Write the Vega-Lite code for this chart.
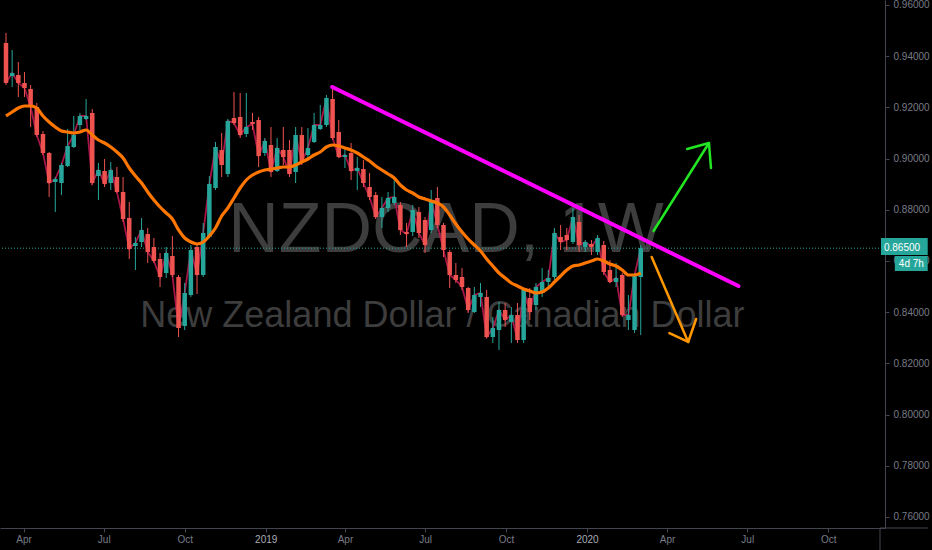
{
  "$schema": "https://vega.github.io/schema/vega-lite/v6.json",
  "width": 885,
  "height": 528,
  "autosize": "none",
  "padding": {"left": 0, "top": 0, "right": 47, "bottom": 22},
  "background": "#000000",
  "config": {"view": {"stroke": null}, "axis": {"grid": false}},
  "datasets": {
    "candles": [
      {"d":"2018-03-12","o":0.94515,"h":0.94906,"l":0.92875,"c":0.92953,"ma":0.91664},
      {"d":"2018-03-19","o":0.93226,"h":0.94242,"l":0.92797,"c":0.93343,"ma":0.91820},
      {"d":"2018-03-26","o":0.93265,"h":0.93773,"l":0.92406,"c":0.92953,"ma":0.91976},
      {"d":"2018-04-02","o":0.92953,"h":0.93383,"l":0.92406,"c":0.92758,"ma":0.92054},
      {"d":"2018-04-09","o":0.92718,"h":0.92875,"l":0.91234,"c":0.92015,"ma":0.92054},
      {"d":"2018-04-16","o":0.92015,"h":0.92172,"l":0.90843,"c":0.90922,"ma":0.91976},
      {"d":"2018-04-23","o":0.90961,"h":0.91078,"l":0.90140,"c":0.90218,"ma":0.91664},
      {"d":"2018-04-30","o":0.90218,"h":0.90257,"l":0.88499,"c":0.89046,"ma":0.91429},
      {"d":"2018-05-07","o":0.89085,"h":0.89281,"l":0.87913,"c":0.89203,"ma":0.91234},
      {"d":"2018-05-14","o":0.89046,"h":0.89828,"l":0.88578,"c":0.89750,"ma":0.91078},
      {"d":"2018-05-21","o":0.89711,"h":0.91156,"l":0.89671,"c":0.90492,"ma":0.91039},
      {"d":"2018-05-28","o":0.90453,"h":0.91664,"l":0.90414,"c":0.90922,"ma":0.91000},
      {"d":"2018-06-04","o":0.91312,"h":0.91781,"l":0.91117,"c":0.91664,"ma":0.91039},
      {"d":"2018-06-11","o":0.91547,"h":0.92328,"l":0.91508,"c":0.91664,"ma":0.91117},
      {"d":"2018-06-18","o":0.91781,"h":0.91937,"l":0.88968,"c":0.89046,"ma":0.90922},
      {"d":"2018-06-25","o":0.89320,"h":0.89828,"l":0.88382,"c":0.89554,"ma":0.90726},
      {"d":"2018-07-02","o":0.89515,"h":0.89984,"l":0.88890,"c":0.89007,"ma":0.90609},
      {"d":"2018-07-09","o":0.89046,"h":0.89867,"l":0.88773,"c":0.89554,"ma":0.90453},
      {"d":"2018-07-16","o":0.89281,"h":0.89671,"l":0.88656,"c":0.88695,"ma":0.90257},
      {"d":"2018-07-23","o":0.88695,"h":0.89281,"l":0.87523,"c":0.87640,"ma":0.90023},
      {"d":"2018-07-30","o":0.87679,"h":0.88304,"l":0.86078,"c":0.86468,"ma":0.89632},
      {"d":"2018-08-06","o":0.86585,"h":0.86937,"l":0.85648,"c":0.86703,"ma":0.89320},
      {"d":"2018-08-13","o":0.86742,"h":0.87679,"l":0.86546,"c":0.87210,"ma":0.89046},
      {"d":"2018-08-20","o":0.87054,"h":0.87288,"l":0.85922,"c":0.86351,"ma":0.88695},
      {"d":"2018-08-27","o":0.86546,"h":0.86898,"l":0.85922,"c":0.86000,"ma":0.88382},
      {"d":"2018-09-03","o":0.86078,"h":0.86312,"l":0.84984,"c":0.85375,"ma":0.88109},
      {"d":"2018-09-10","o":0.85531,"h":0.86546,"l":0.85336,"c":0.86312,"ma":0.87875},
      {"d":"2018-09-17","o":0.86195,"h":0.86976,"l":0.85375,"c":0.85453,"ma":0.87640},
      {"d":"2018-09-24","o":0.85375,"h":0.85453,"l":0.83031,"c":0.83382,"ma":0.87211},
      {"d":"2018-10-01","o":0.83461,"h":0.85140,"l":0.83304,"c":0.84750,"ma":0.86898},
      {"d":"2018-10-08","o":0.84672,"h":0.86625,"l":0.84593,"c":0.86429,"ma":0.86742},
      {"d":"2018-10-15","o":0.86546,"h":0.86703,"l":0.84711,"c":0.85453,"ma":0.86664},
      {"d":"2018-10-22","o":0.85453,"h":0.87484,"l":0.85375,"c":0.87093,"ma":0.86742},
      {"d":"2018-10-29","o":0.86937,"h":0.89320,"l":0.86898,"c":0.89007,"ma":0.86976},
      {"d":"2018-11-05","o":0.88851,"h":0.90648,"l":0.88773,"c":0.90453,"ma":0.87289},
      {"d":"2018-11-12","o":0.90336,"h":0.91000,"l":0.89281,"c":0.89750,"ma":0.87757},
      {"d":"2018-11-19","o":0.89398,"h":0.91547,"l":0.89281,"c":0.91468,"ma":0.88070},
      {"d":"2018-11-26","o":0.91586,"h":0.92601,"l":0.91312,"c":0.91390,"ma":0.88461},
      {"d":"2018-12-03","o":0.91625,"h":0.92562,"l":0.90804,"c":0.90922,"ma":0.88851},
      {"d":"2018-12-10","o":0.90961,"h":0.92562,"l":0.90843,"c":0.91234,"ma":0.89164},
      {"d":"2018-12-17","o":0.91429,"h":0.91781,"l":0.91117,"c":0.91351,"ma":0.89359},
      {"d":"2018-12-24","o":0.91508,"h":0.91625,"l":0.89671,"c":0.90101,"ma":0.89476},
      {"d":"2018-12-31","o":0.90218,"h":0.90804,"l":0.90101,"c":0.90687,"ma":0.89554},
      {"d":"2019-01-07","o":0.90531,"h":0.91234,"l":0.89281,"c":0.89476,"ma":0.89593},
      {"d":"2019-01-14","o":0.89515,"h":0.90804,"l":0.89476,"c":0.90414,"ma":0.89632},
      {"d":"2019-01-21","o":0.90336,"h":0.91234,"l":0.89750,"c":0.90062,"ma":0.89672},
      {"d":"2019-01-28","o":0.90336,"h":0.90726,"l":0.89281,"c":0.89398,"ma":0.89672},
      {"d":"2019-02-04","o":0.89476,"h":0.91234,"l":0.89046,"c":0.90922,"ma":0.89750},
      {"d":"2019-02-11","o":0.90922,"h":0.91234,"l":0.89750,"c":0.89867,"ma":0.89867},
      {"d":"2019-02-18","o":0.90140,"h":0.91195,"l":0.89945,"c":0.90414,"ma":0.89984},
      {"d":"2019-02-25","o":0.90648,"h":0.91781,"l":0.90609,"c":0.91312,"ma":0.90140},
      {"d":"2019-03-04","o":0.91156,"h":0.92093,"l":0.91117,"c":0.91312,"ma":0.90257},
      {"d":"2019-03-11","o":0.91312,"h":0.92484,"l":0.91234,"c":0.92367,"ma":0.90453},
      {"d":"2019-03-18","o":0.92328,"h":0.92875,"l":0.90726,"c":0.90804,"ma":0.90531},
      {"d":"2019-03-25","o":0.91039,"h":0.91508,"l":0.90023,"c":0.90062,"ma":0.90492},
      {"d":"2019-04-01","o":0.90062,"h":0.90414,"l":0.89632,"c":0.90140,"ma":0.90414},
      {"d":"2019-04-08","o":0.90218,"h":0.90609,"l":0.89164,"c":0.89515,"ma":0.90336},
      {"d":"2019-04-15","o":0.89515,"h":0.90062,"l":0.88773,"c":0.89632,"ma":0.90218},
      {"d":"2019-04-22","o":0.89593,"h":0.89945,"l":0.88890,"c":0.89046,"ma":0.90062},
      {"d":"2019-04-29","o":0.88890,"h":0.89437,"l":0.88382,"c":0.88499,"ma":0.89906},
      {"d":"2019-05-06","o":0.88578,"h":0.88695,"l":0.87640,"c":0.87718,"ma":0.89711},
      {"d":"2019-05-13","o":0.87718,"h":0.88499,"l":0.87288,"c":0.88070,"ma":0.89554},
      {"d":"2019-05-20","o":0.88070,"h":0.88695,"l":0.87913,"c":0.88460,"ma":0.89398},
      {"d":"2019-05-27","o":0.88265,"h":0.89242,"l":0.88187,"c":0.88499,"ma":0.89242},
      {"d":"2019-06-03","o":0.88187,"h":0.88304,"l":0.87015,"c":0.87210,"ma":0.88968},
      {"d":"2019-06-10","o":0.87132,"h":0.87484,"l":0.86546,"c":0.87054,"ma":0.88773},
      {"d":"2019-06-17","o":0.87132,"h":0.88187,"l":0.86976,"c":0.87992,"ma":0.88656},
      {"d":"2019-06-24","o":0.87913,"h":0.88109,"l":0.86898,"c":0.87093,"ma":0.88500},
      {"d":"2019-07-01","o":0.87601,"h":0.87718,"l":0.86312,"c":0.86625,"ma":0.88422},
      {"d":"2019-07-08","o":0.87210,"h":0.88773,"l":0.87093,"c":0.88382,"ma":0.88343},
      {"d":"2019-07-15","o":0.88460,"h":0.88890,"l":0.87288,"c":0.87406,"ma":0.88265},
      {"d":"2019-07-22","o":0.87406,"h":0.87484,"l":0.86156,"c":0.86429,"ma":0.88109},
      {"d":"2019-07-29","o":0.86351,"h":0.86429,"l":0.84945,"c":0.85453,"ma":0.87797},
      {"d":"2019-08-05","o":0.85453,"h":0.85922,"l":0.85140,"c":0.85257,"ma":0.87445},
      {"d":"2019-08-12","o":0.85375,"h":0.85726,"l":0.84867,"c":0.84984,"ma":0.87132},
      {"d":"2019-08-19","o":0.84945,"h":0.84984,"l":0.83968,"c":0.84086,"ma":0.86859},
      {"d":"2019-08-26","o":0.84007,"h":0.84984,"l":0.83968,"c":0.84672,"ma":0.86625},
      {"d":"2019-09-02","o":0.84593,"h":0.85140,"l":0.84203,"c":0.84750,"ma":0.86390},
      {"d":"2019-09-09","o":0.84593,"h":0.84867,"l":0.82992,"c":0.83031,"ma":0.86078},
      {"d":"2019-09-16","o":0.83031,"h":0.83812,"l":0.82797,"c":0.83382,"ma":0.85804},
      {"d":"2019-09-23","o":0.83304,"h":0.84398,"l":0.82523,"c":0.84086,"ma":0.85531},
      {"d":"2019-09-30","o":0.84086,"h":0.84359,"l":0.83422,"c":0.83695,"ma":0.85336},
      {"d":"2019-10-07","o":0.83617,"h":0.84203,"l":0.82797,"c":0.83890,"ma":0.85140},
      {"d":"2019-10-14","o":0.83890,"h":0.84359,"l":0.82797,"c":0.82914,"ma":0.85023},
      {"d":"2019-10-21","o":0.82914,"h":0.84945,"l":0.82797,"c":0.84867,"ma":0.84906},
      {"d":"2019-10-28","o":0.84554,"h":0.84945,"l":0.83695,"c":0.84007,"ma":0.84828},
      {"d":"2019-11-04","o":0.84281,"h":0.85140,"l":0.84086,"c":0.84984,"ma":0.84750},
      {"d":"2019-11-11","o":0.84750,"h":0.85726,"l":0.84593,"c":0.85179,"ma":0.84789},
      {"d":"2019-11-18","o":0.85179,"h":0.85648,"l":0.84984,"c":0.85336,"ma":0.84945},
      {"d":"2019-11-25","o":0.85375,"h":0.87288,"l":0.85257,"c":0.87093,"ma":0.85179},
      {"d":"2019-12-02","o":0.86937,"h":0.87406,"l":0.86429,"c":0.86742,"ma":0.85414},
      {"d":"2019-12-09","o":0.87015,"h":0.87288,"l":0.86429,"c":0.86820,"ma":0.85648},
      {"d":"2019-12-16","o":0.86742,"h":0.88070,"l":0.86664,"c":0.87718,"ma":0.85804},
      {"d":"2019-12-23","o":0.87523,"h":0.87796,"l":0.86351,"c":0.86625,"ma":0.85843},
      {"d":"2019-12-30","o":0.86546,"h":0.86820,"l":0.86351,"c":0.86742,"ma":0.85922},
      {"d":"2020-01-06","o":0.86664,"h":0.86820,"l":0.86234,"c":0.86546,"ma":0.86000},
      {"d":"2020-01-13","o":0.86351,"h":0.87015,"l":0.86234,"c":0.86898,"ma":0.86078},
      {"d":"2020-01-20","o":0.86625,"h":0.86781,"l":0.85453,"c":0.85570,"ma":0.86000},
      {"d":"2020-01-27","o":0.85648,"h":0.86039,"l":0.85140,"c":0.85179,"ma":0.85882},
      {"d":"2020-02-03","o":0.85179,"h":0.85922,"l":0.84984,"c":0.85336,"ma":0.85804},
      {"d":"2020-02-10","o":0.85453,"h":0.85531,"l":0.83812,"c":0.83890,"ma":0.85648},
      {"d":"2020-02-17","o":0.83695,"h":0.84672,"l":0.83304,"c":0.83890,"ma":0.85453},
      {"d":"2020-02-24","o":0.83304,"h":0.85531,"l":0.83187,"c":0.85453,"ma":0.85453},
      {"d":"2020-03-02","o":0.85375,"h":0.86625,"l":0.83109,"c":0.86500,"ma":0.85531}
    ],
    "trend": [
      {"d":"2019-03-17T14:00:00Z","v":0.92797},
      {"d":"2020-06-21T00:00:00Z","v":0.85023}
    ],
    "arrows": [
      {"dir":"up","seg":"up-shaft","k":1,"d":"2020-03-16T14:00:00Z","v":0.87172},
      {"dir":"up","seg":"up-shaft","k":2,"d":"2020-05-18T12:00:00Z","v":0.90609},
      {"dir":"up","seg":"up-head","k":1,"d":"2020-04-23T19:00:00Z","v":0.90375},
      {"dir":"up","seg":"up-head","k":2,"d":"2020-05-18T12:00:00Z","v":0.90609},
      {"dir":"up","seg":"up-head","k":3,"d":"2020-05-20T19:00:00Z","v":0.89632},
      {"dir":"down","seg":"down-shaft","k":1,"d":"2020-03-14T10:00:00Z","v":0.86156},
      {"dir":"down","seg":"down-shaft","k":2,"d":"2020-04-24T22:00:00Z","v":0.82836},
      {"dir":"down","seg":"down-head","k":1,"d":"2020-04-03T14:00:00Z","v":0.83187},
      {"dir":"down","seg":"down-head","k":2,"d":"2020-04-24T22:00:00Z","v":0.82836},
      {"dir":"down","seg":"down-head","k":3,"d":"2020-05-03T22:00:00Z","v":0.83734}
    ],
    "watermark": [
      {"kind":"symbol","text":"NZDCAD, 1W","d":"2019-07-24T19:00:00Z","v":0.86351},
      {"kind":"desc","text":"New Zealand Dollar / Canadian Dollar","d":"2019-07-20T19:00:00Z","v":0.83422}
    ],
    "price": [{"v":0.865,"label":"0.86500","countdown":"4d 7h"}]
  },
  "layer": [
    {
      "data": {"name": "watermark"},
      "transform": [{"filter": "datum.kind === 'symbol'"}],
      "mark": {"type": "text", "font": "Liberation Sans, sans-serif", "fontSize": 70, "color": "#3d3d3d", "align": "center", "baseline": "alphabetic"},
      "encoding": {
        "x": {"field": "d", "type": "temporal", "title": null},
        "y": {"field": "v", "type": "quantitative", "title": null},
        "text": {"field": "text"}
      }
    },
    {
      "data": {"name": "watermark"},
      "transform": [{"filter": "datum.kind === 'desc'"}],
      "mark": {"type": "text", "font": "Liberation Sans, sans-serif", "fontSize": 36, "color": "#3d3d3d", "align": "center", "baseline": "alphabetic"},
      "encoding": {
        "x": {"field": "d", "type": "temporal", "title": null},
        "y": {"field": "v", "type": "quantitative", "title": null},
        "text": {"field": "text"}
      }
    },
    {
      "data": {"name": "price"},
      "mark": {"type": "rule", "color": "#26a69a", "strokeWidth": 1, "strokeDash": [1, 2]},
      "encoding": {
        "y": {"field": "v", "type": "quantitative", "title": null}
      }
    },
    {
      "data": {"name": "candles"},
      "mark": {"type": "line", "color": "#b8174f", "strokeWidth": 1.8, "opacity": 0.9},
      "encoding": {
        "x": {"field": "d", "type": "temporal", "title": null},
        "y": {"field": "c", "type": "quantitative", "title": null}
      }
    },
    {
      "data": {"name": "candles"},
      "mark": {"type": "rule", "strokeWidth": 1},
      "encoding": {
        "x": {
          "field": "d", "type": "temporal", "title": null,
          "scale": {"type": "utc", "domain": [{"year": 2018, "month": 3, "date": 10, "hours": 21, "utc": true}, {"year": 2020, "month": 11, "date": 28, "hours": 19, "utc": true}]},
          "axis": {
            "orient": "bottom",
            "values": [
              {"year": 2018, "month": 4, "date": 1, "utc": true},
              {"year": 2018, "month": 7, "date": 1, "utc": true},
              {"year": 2018, "month": 10, "date": 1, "utc": true},
              {"year": 2019, "month": 1, "date": 1, "utc": true},
              {"year": 2019, "month": 4, "date": 1, "utc": true},
              {"year": 2019, "month": 7, "date": 1, "utc": true},
              {"year": 2019, "month": 10, "date": 1, "utc": true},
              {"year": 2020, "month": 1, "date": 1, "utc": true},
              {"year": 2020, "month": 4, "date": 1, "utc": true},
              {"year": 2020, "month": 7, "date": 1, "utc": true},
              {"year": 2020, "month": 10, "date": 1, "utc": true}
            ],
            "labelExpr": "utcmonth(datum.value) === 0 ? utcFormat(datum.value, '%Y') : utcFormat(datum.value, '%b')",
            "labelColor": {"condition": {"test": "utcmonth(datum.value) === 0", "value": "#a9acb4"}, "value": "#787b86"},
            "labelFont": "Liberation Sans, sans-serif",
            "labelFontSize": 10,
            "labelPadding": 2,
            "labelFlush": false,
            "labelOverlap": false,
            "tickColor": "#434651",
            "tickSize": 4,
            "domainColor": "#434651",
            "grid": false
          }
        },
        "y": {
          "field": "l", "type": "quantitative", "title": null,
          "scale": {"domain": [0.7557, 0.96195], "zero": false, "nice": false},
          "axis": {
            "orient": "right",
            "values": [0.76, 0.78, 0.80, 0.82, 0.84, 0.86, 0.88, 0.90, 0.92, 0.94, 0.96],
            "format": ".5f",
            "labelColor": "#787b86",
            "labelFont": "Liberation Sans, sans-serif",
            "labelFontSize": 10,
            "labelPadding": 4,
            "labelOverlap": false,
            "labelFlush": false,
            "tickColor": "#434651",
            "tickSize": 4,
            "domainColor": "#434651",
            "grid": false
          }
        },
        "y2": {"field": "h"},
        "color": {"condition": {"test": "datum.c >= datum.o", "value": "#26a69a"}, "value": "#ef5350"}
      }
    },
    {
      "data": {"name": "candles"},
      "mark": {"type": "bar", "size": 4.5},
      "encoding": {
        "x": {"field": "d", "type": "temporal", "title": null},
        "y": {"field": "o", "type": "quantitative", "title": null},
        "y2": {"field": "c"},
        "color": {"condition": {"test": "datum.c >= datum.o", "value": "#26a69a"}, "value": "#ef5350"}
      }
    },
    {
      "data": {"name": "candles"},
      "mark": {"type": "line", "color": "#ff7600", "strokeWidth": 3.2, "interpolate": "monotone"},
      "encoding": {
        "x": {"field": "d", "type": "temporal", "title": null},
        "y": {"field": "ma", "type": "quantitative", "title": null}
      }
    },
    {
      "data": {"name": "trend"},
      "mark": {"type": "line", "color": "#ff00ff", "strokeWidth": 4, "strokeCap": "round"},
      "encoding": {
        "x": {"field": "d", "type": "temporal", "title": null},
        "y": {"field": "v", "type": "quantitative", "title": null}
      }
    },
    {
      "data": {"name": "arrows"},
      "mark": {"type": "line", "strokeWidth": 2.5, "strokeCap": "round", "strokeJoin": "round"},
      "encoding": {
        "x": {"field": "d", "type": "temporal", "title": null},
        "y": {"field": "v", "type": "quantitative", "title": null},
        "detail": {"field": "seg"},
        "order": {"field": "k"},
        "color": {"field": "dir", "type": "nominal", "scale": {"domain": ["up", "down"], "range": ["#22e622", "#ff9800"]}, "legend": null}
      }
    },
    {
      "data": {"name": "price"},
      "mark": {"type": "rule", "color": "#434651", "strokeWidth": 1},
      "encoding": {
        "x": {"datum": {"year": 2020, "month": 11, "date": 28, "hours": 19, "utc": true}, "type": "temporal", "title": null},
        "x2": {"datum": {"year": 2021, "month": 1, "date": 22, "utc": true}},
        "y": {"datum": 0.7557, "type": "quantitative", "title": null}
      }
    },
    {
      "data": {"name": "price"},
      "mark": {"type": "rule", "color": "#434651", "strokeWidth": 1},
      "encoding": {
        "x": {"datum": {"year": 2020, "month": 11, "date": 28, "hours": 19, "utc": true}, "type": "temporal", "title": null},
        "y": {"datum": 0.7557, "type": "quantitative", "title": null},
        "y2": {"datum": 0.7465}
      }
    },
    {
      "data": {"name": "price"},
      "mark": {"type": "rect", "color": "#26a69a"},
      "encoding": {
        "x": {"datum": {"year": 2020, "month": 11, "date": 29, "hours": 22, "utc": true}, "type": "temporal", "title": null},
        "x2": {"datum": {"year": 2021, "month": 1, "date": 22, "utc": true}},
        "y": {"datum": 0.86898, "type": "quantitative", "title": null},
        "y2": {"datum": 0.86234}
      }
    },
    {
      "data": {"name": "price"},
      "mark": {"type": "rect", "color": "#26a69a"},
      "encoding": {
        "x": {"datum": {"year": 2020, "month": 12, "date": 15, "hours": 15, "utc": true}, "type": "temporal", "title": null},
        "x2": {"datum": {"year": 2021, "month": 1, "date": 22, "utc": true}},
        "y": {"datum": 0.86195, "type": "quantitative", "title": null},
        "y2": {"datum": 0.85609}
      }
    },
    {
      "data": {"name": "price"},
      "mark": {"type": "text", "color": "#ffffff", "align": "left", "baseline": "middle", "fontSize": 10, "font": "Liberation Sans, sans-serif"},
      "encoding": {
        "x": {"datum": {"year": 2020, "month": 12, "date": 3, "hours": 7, "utc": true}, "type": "temporal", "title": null},
        "y": {"field": "v", "type": "quantitative", "title": null},
        "text": {"field": "label"}
      }
    },
    {
      "data": {"name": "price"},
      "mark": {"type": "text", "color": "#ffffff", "align": "left", "baseline": "middle", "fontSize": 10, "font": "Liberation Sans, sans-serif"},
      "encoding": {
        "x": {"datum": {"year": 2020, "month": 12, "date": 20, "hours": 5, "utc": true}, "type": "temporal", "title": null},
        "y": {"datum": 0.85902, "type": "quantitative", "title": null},
        "text": {"field": "countdown"}
      }
    }
  ]
}
